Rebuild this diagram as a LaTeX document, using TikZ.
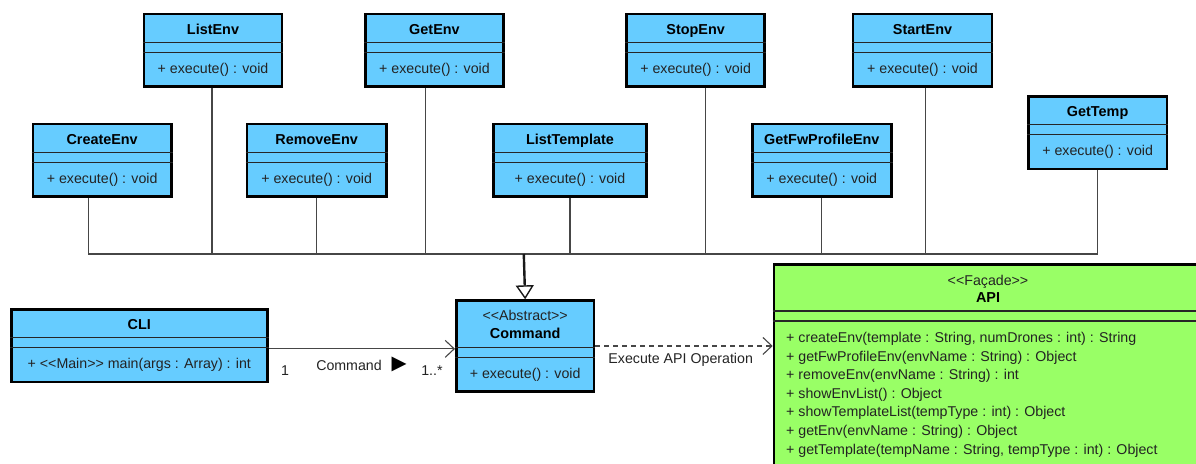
\documentclass[tikz,border=0pt]{standalone}
\usepackage{fontspec}
\setmainfont{Liberation Sans}
\newfontfamily\symfont{DejaVu Sans}
\usetikzlibrary{arrows.meta}

\definecolor{classblue}{RGB}{102,204,255}
\definecolor{facadegreen}{RGB}{153,255,102}
\definecolor{linegray}{RGB}{70,70,70}
\definecolor{textgray}{RGB}{35,35,35}

% guillemet-free angle brackets (keeps the TeX mapping from turning << into a guillemet)
\newcommand{\stereoL}{<\kern0pt<}
\newcommand{\stereoR}{>\kern0pt>}

\tikzset{
  umltext/.style={inner sep=0pt, text height=10.2pt, text depth=0pt,
    font=\fontsize{14.2}{17}\selectfont},
  classbox/.style={draw=black, line width=2.6pt, fill=classblue, inner sep=0pt},
  facadebox/.style={draw=black, line width=2.6pt, fill=facadegreen, inner sep=0pt},
  compline/.style={draw=black!85, line width=1.2pt},
  titletext/.style={umltext, font=\fontsize{14.4}{17}\selectfont\bfseries, text=black},
  optext/.style={umltext, text=textgray},
  conn/.style={draw=linegray, line width=1.1pt},
  gen/.style={draw=black!90, line width=2.4pt,
    -{Triangle[open, length=14pt, width=18pt, line width=1.4pt]}},
  assoc/.style={draw=linegray, line width=1.1pt,
    -{Straight Barb[length=9pt, width=17pt, line width=1.1pt]}},
  dep/.style={draw=linegray, line width=1.1pt, dash pattern=on 5pt off 4pt,
    -{Straight Barb[length=9pt, width=17pt, line width=1.1pt]}},
  lbl/.style={umltext, text=textgray},
  dirmark/.style={inner sep=0pt, text=black, font=\symfont\fontsize{19.5}{20}\selectfont},
}

% class box with name, operation and an empty attribute compartment
\newcommand{\umlclass}[6]{% node name, left x, top y, width, class name, operation
  \node[classbox, minimum width=#4pt, minimum height=72.5pt, anchor=north west] (#1) at (#2,#3) {};
  \draw[compline] ([yshift=-29.5pt]#1.north west) -- ([yshift=-29.5pt]#1.north east);
  \draw[compline] ([yshift=-39.5pt]#1.north west) -- ([yshift=-39.5pt]#1.north east);
  \node[titletext] (#1-title) at ([yshift=-16.4pt]#1.north) {#5};
  \node[optext] (#1-op) at ([yshift=-55.5pt]#1.north) {#6};
}

\begin{document}
\begin{tikzpicture}[x=1pt, y=-1pt]
\clip (0,0) rectangle (1196,463);
\fill[white] (0,0) rectangle (1196,463);

% concrete commands
\umlclass{createenv}{31.7}{122.7}{138.3}{CreateEnv}{+ execute() : void}
\umlclass{listenv}{142.7}{12.7}{138}{ListEnv}{+ execute() : void}
\umlclass{removeenv}{245.7}{122.7}{139.3}{RemoveEnv}{+ execute() : void}
\umlclass{getenv}{364}{12.7}{138.3}{GetEnv}{+ execute() : void}
\umlclass{listtemplate}{492}{122.7}{153.3}{ListTemplate}{+ execute() : void}
\umlclass{stopenv}{625.3}{12.7}{138}{StopEnv}{+ execute() : void}
\umlclass{getfwprofileenv}{751}{122.7}{139}{GetFwProfileEnv}{+ execute() : void}
\umlclass{startenv}{851.7}{12.7}{139}{StartEnv}{+ execute() : void}
\umlclass{gettemp}{1027}{95}{138.7}{GetTemp}{+ execute() : void}

% client
\umlclass{cli}{10}{308.3}{256}{CLI}{+ \stereoL Main\stereoR\ main(args : Array) : int}

% abstract command
\node[classbox, minimum width=137.7pt, minimum height=90.7pt, anchor=north west] (command) at (455,299.3) {};
\draw[compline] ([yshift=-48pt]command.north west) -- ([yshift=-48pt]command.north east);
\draw[compline] ([yshift=-58pt]command.north west) -- ([yshift=-58pt]command.north east);
\node[optext] (command-stereo) at ([yshift=-15.7pt]command.north) {\stereoL Abstract\stereoR};
\node[titletext] (command-title) at ([yshift=-34pt]command.north) {Command};
\node[optext] (command-op) at ([yshift=-74pt]command.north) {+ execute() : void};

% facade
\node[facadebox, minimum width=428pt, minimum height=220pt, anchor=north west] (api) at (772.7,263.3) {};
\draw[compline] ([yshift=-47.7pt]api.north west) -- ([yshift=-47.7pt]api.north east);
\draw[compline] ([yshift=-57.7pt]api.north west) -- ([yshift=-57.7pt]api.north east);
\node[optext] (api-stereo) at ([yshift=-16.7pt]api.north) {\stereoL Façade\stereoR};
\node[titletext] (api-title) at ([yshift=-34.4pt]api.north) {API};
\node[optext, anchor=west] (api-op1) at (786,337.3) {+ createEnv(template : String, numDrones : int) : String};
\node[optext, anchor=west] (api-op2) at (786,355.9) {+ getFwProfileEnv(envName : String) : Object};
\node[optext, anchor=west] (api-op3) at (786,374.5) {+ removeEnv(envName : String) : int};
\node[optext, anchor=west] (api-op4) at (786,393.1) {+ showEnvList() : Object};
\node[optext, anchor=west] (api-op5) at (786,411.7) {+ showTemplateList(tempType : int) : Object};
\node[optext, anchor=west] (api-op6) at (786,430.3) {+ getEnv(envName : String) : Object};
\node[optext, anchor=west] (api-op7) at (786,448.9) {+ getTemplate(tempName : String, tempType : int) : Object};

% inheritance tree
\coordinate (bus) at (523.8,254);
\draw[conn] ([xshift=-14.1pt]createenv.south) |- (bus);
\draw[conn] ([xshift=-1pt]listenv.south) |- (bus);
\draw[conn] (removeenv.south) |- (bus);
\draw[conn] ([xshift=-9.2pt]getenv.south) |- (bus);
\draw[conn] (listtemplate.south) |- (bus);
\draw[conn] ([xshift=10pt]stopenv.south) |- (bus);
\draw[conn] (getfwprofileenv.south) |- (bus);
\draw[conn] ([xshift=3pt]startenv.south) |- (bus);
\draw[conn] (gettemp.south) |- (bus);
\draw[gen] (bus) -- (command.north);

% association CLI -> Command
\draw[assoc] ([yshift=-3pt]cli.east) -- ([yshift=-3pt]cli.east -| command.west);
\node[lbl] (mult-cli) at (285,370) {1};
\node[lbl] (assoc-name) at (349,365.3) {Command};
\node[dirmark] (assoc-dir) at (399.2,364.2) {▶};
\node[lbl] (mult-cmd) at (432,370.7) {1..*};

% dependency Command -> API
\draw[dep] (command.east) -- (command.east -| api.west);
\node[lbl] (dep-label) at (680.7,358.3) {Execute API Operation};

\end{tikzpicture}
\end{document}
